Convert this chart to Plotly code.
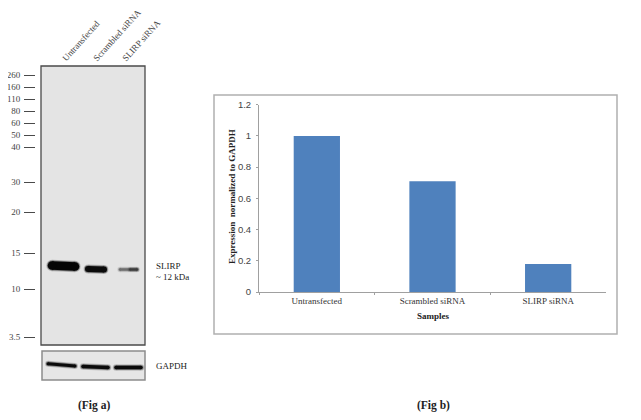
import plotly.graph_objects as go

# --- Data -------------------------------------------------------------------
W, H = 641, 420
SAMPLES = ['Untransfected', 'Scrambled siRNA', 'SLIRP siRNA']
EXPRESSION = [1.0, 0.71, 0.18]

# ladder, positions are migration distance down the blot
LADDER_LABELS = ['260', '160', '110', '80', '60', '50', '40', '30', '20', '15', '10', '3.5']
LADDER_POS = [9, 21, 33, 45, 57, 69, 81, 116, 146, 187, 223, 271]
LANE_CENTRES = [22, 53, 82]

# bands: lane start/end, migration at start/end, thickness, colour
# (the last SLIRP entry is the darker right half of the faint band)
SLIRP_X = [[11, 34], [47, 63], [79, 96], [89, 96]]
SLIRP_Y = [[199.5, 200.5], [203, 203.5], [203.5, 203.5], [203.5, 203.5]]
SLIRP_W = [8.5, 6, 2.5, 2]
SLIRP_C = ['#050505', '#0a0a0a', '#6e6e6e', '#3c3c3c']
GAPDH_X = [[6, 33], [41, 66], [74, 99]]
GAPDH_Y = [[12.8, 15], [15.5, 16.5], [16.5, 16.5]]
GAPDH_W = [3, 3.5, 3.5]

# the page body has an 8px margin, so the figure is kept inside the window
PAGE_MARGIN = 8
FIG_W = W - 2 * PAGE_MARGIN
FIG_H = H - 2 * PAGE_MARGIN


# --- Helpers ----------------------------------------------------------------
def px_x(x):
    return (x - PAGE_MARGIN) / FIG_W


def px_y(y):
    return 1 - (y - PAGE_MARGIN) / FIG_H


def add_band(fig, x, y, width, color, xaxis, yaxis, halo=0.35):
    # soft edge first, then the dark core with round ends
    for extra, opacity in [(3, halo * 0.5), (1.5, halo), (0, 1)]:
        fig.add_trace(go.Scatter(
            x=x, y=y, mode='lines+markers', xaxis=xaxis, yaxis=yaxis, opacity=opacity,
            line=dict(color=color, width=width + extra),
            marker=dict(color=color, size=width + extra, line=dict(width=0)),
            hoverinfo='skip', showlegend=False))


def add_frame(fig, xref, yref, fill, color, width):
    fig.add_shape(type='rect', xref=xref + ' domain', yref=yref + ' domain', x0=0, x1=1, y0=0, y1=1,
                  fillcolor=fill, line=dict(color=color, width=width), layer='below')


# --- Figure -----------------------------------------------------------------
fig = go.Figure()

# blot panels
add_frame(fig, 'x', 'y', '#e4e4e4', '#4a4a4a', 1.3)
add_frame(fig, 'x2', 'y2', '#e6e6e6', '#8c8c8c', 1.5)
for i in range(len(SLIRP_X)):
    add_band(fig, SLIRP_X[i], SLIRP_Y[i], SLIRP_W[i], SLIRP_C[i], 'x', 'y')
for i in range(len(GAPDH_X)):
    add_band(fig, GAPDH_X[i], GAPDH_Y[i], GAPDH_W[i], '#0a0a0a', 'x2', 'y2')

# bar chart
fig.add_trace(go.Bar(x=SAMPLES, y=EXPRESSION, xaxis='x3', yaxis='y3',
                     marker=dict(color='#4f81bd', line=dict(width=0)), showlegend=False))

serif = 'Liberation Serif'
fig.update_layout(
    width=FIG_W, height=FIG_H, autosize=False,
    margin=dict(l=0, r=0, t=0, b=0, autoexpand=False),
    paper_bgcolor='white', plot_bgcolor='rgba(0,0,0,0)',
    font=dict(family=serif, color='#333333', size=9),
    bargap=0.6,
    xaxis=dict(domain=[px_x(41), px_x(145)], range=[0, 104], side='top', anchor='y', automargin=False,
               tickmode='array', tickvals=LANE_CENTRES, ticktext=SAMPLES, tickangle=-48,
               ticks='', showgrid=False, zeroline=False, showline=False,
               tickfont=dict(size=9, color='#444444')),
    yaxis=dict(domain=[px_y(345), px_y(66)], range=[279, 0], anchor='free', position=px_x(35), automargin=False,
               tickmode='array', tickvals=LADDER_POS, ticktext=LADDER_LABELS,
               ticks='outside', ticklen=11, tickwidth=1.4, tickcolor='#4a4a4a', ticklabelstandoff=2,
               showgrid=False, zeroline=False, showline=False,
               tickfont=dict(size=9, color='#444444')),
    xaxis2=dict(domain=[px_x(42), px_x(145)], range=[0, 103], anchor='y2', visible=False),
    yaxis2=dict(domain=[px_y(380), px_y(351)], range=[29, 0], anchor='x2', visible=False),
    xaxis3=dict(domain=[px_x(259), px_x(606)], anchor='y3', type='category', automargin=False,
                tickson='boundaries', ticks='outside', ticklen=2, tickcolor='#a0a0a0',
                showline=True, linecolor='#a0a0a0', linewidth=1, showgrid=False, zeroline=False,
                tickfont=dict(size=9, color='#333333')),
    yaxis3=dict(domain=[px_y(292), px_y(104.7)], range=[0, 1.2], anchor='x3', dtick=0.2, automargin=False,
                tickformat='~g', ticks='outside', ticklen=2, tickcolor='#a0a0a0', ticklabelstandoff=3,
                showline=True, linecolor='#a0a0a0', linewidth=1, showgrid=False, zeroline=False,
                tickfont=dict(family='Liberation Sans', size=9.5, color='#444444')),
    shapes=list(fig.layout.shapes) + [
        dict(type='rect', xref='paper', yref='paper', x0=px_x(214), x1=px_x(617), y0=px_y(334), y1=px_y(95),
             line=dict(color='#b0b0b0', width=1.5), fillcolor='rgba(0,0,0,0)'),
    ],
)

# side labels, axis titles and figure captions
notes = [
    (154, 266, 'SLIRP', 9, 'left', 0),
    (154, 277, '~ 12 kDa', 9, 'left', 0),
    (154, 366, 'GAPDH', 9, 'left', 0),
    (94, 405, '<b>(Fig a)</b>', 11.5, 'center', 0),
    (433, 405, '<b>(Fig b)</b>', 11.5, 'center', 0),
    (433, 316, '<b>Samples</b>', 9, 'center', 0),
    (232, 197, '<b>Expression  normalized to GAPDH</b>', 9, 'center', -90),
]
for x, y, text, size, anchor, angle in notes:
    fig.add_annotation(x=px_x(x), y=px_y(y), xref='paper', yref='paper', text=text, showarrow=False,
                       xanchor=anchor, yanchor='middle', textangle=angle,
                       font=dict(size=size, color='#222222'))

fig.write_html("out.html")
